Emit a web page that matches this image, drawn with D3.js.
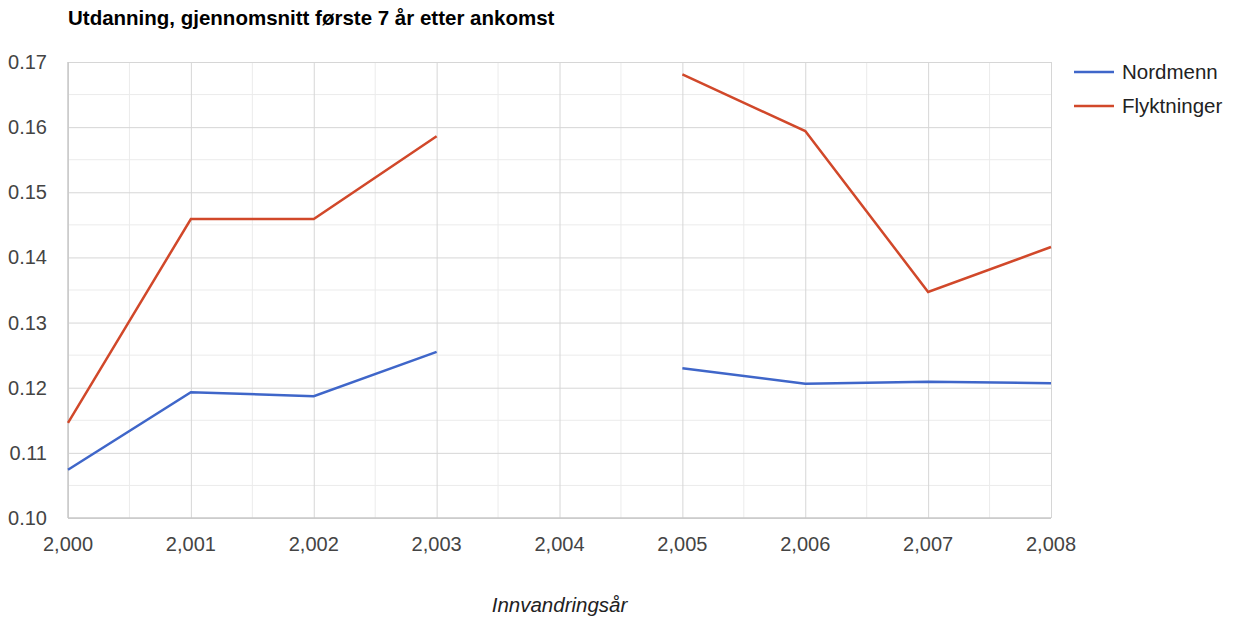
<!DOCTYPE html>
<html>
<head>
<meta charset="utf-8">
<script src="https://cdn.jsdelivr.net/npm/d3@7"></script>
<style>
  body { margin: 0; background: #fff; font-family: Arial, "Liberation Sans", sans-serif; }
  .minor line { stroke: #ebebeb; }
  .major line { stroke: #d6d6d6; }
  .domain { display: none; }
</style>
</head>
<body>
<div id="chart"></div>
<script>
var width = 1234;
var height = 617;

// data; 2004 is missing
var years = [2000, 2001, 2002, 2003, 2004, 2005, 2006, 2007, 2008];
var nordmenn = [0.1074, 0.1193, 0.1187, 0.1255, null, 0.1230, 0.1206, 0.1209, 0.1207];
var flyktninger = [0.1146, 0.1459, 0.1459, 0.1586, null, 0.1681, 0.1594, 0.1347, 0.1416];
var seriesNames = ["Nordmenn", "Flyktninger"];
var colors = ["#3f66c9", "#d1482a"];
var yTicks = [0.10, 0.11, 0.12, 0.13, 0.14, 0.15, 0.16, 0.17];

var margin = {top: 62, left: 68, right: 183, bottom: 99};

var svg = d3.select("#chart").append("svg")
    .attr("width", width)
    .attr("height", height);

var x = d3.scaleLinear().domain([2000, 2008]).range([margin.left, width - margin.right]);
var y = d3.scaleLinear().domain([0.10, 0.17]).range([height - margin.bottom, margin.top]);

/***** Grid lines *****/
var minorX = d3.range(2000.5, 2008, 1);
var minorY = d3.range(0.105, 0.17, 0.01);

svg.append("g").attr("class", "minor")
  .selectAll("line").data(minorX).join("line")
  .attr("x1", d => x(d)).attr("x2", d => x(d))
  .attr("y1", y(0.17)).attr("y2", y(0.10));
svg.append("g").attr("class", "minor")
  .selectAll("line").data(minorY).join("line")
  .attr("y1", d => y(d)).attr("y2", d => y(d))
  .attr("x1", x(2000)).attr("x2", x(2008));

var yGrid = svg.append("g").attr("class", "major")
    .attr("transform", "translate(" + margin.left + ",0)");
d3.axisLeft(y).tickValues(yTicks).tickSize(-(x(2008) - x(2000))).tickFormat("")(yGrid);

var xGrid = svg.append("g").attr("class", "major")
    .attr("transform", "translate(0," + y(0.10) + ")");
d3.axisBottom(x).tickValues(years).tickSize(-(y(0.10) - y(0.17))).tickFormat("")(xGrid);

// axis baselines
svg.append("line").attr("x1", x(2000)).attr("x2", x(2008))
  .attr("y1", y(0.10)).attr("y2", y(0.10)).attr("stroke", "#c8c8c8").attr("stroke-width", 1.5);
svg.append("line").attr("x1", x(2000)).attr("x2", x(2000))
  .attr("y1", y(0.10)).attr("y2", y(0.17)).attr("stroke", "#c8c8c8").attr("stroke-width", 1.5);

/***** Tick labels *****/
svg.append("g").selectAll("text").data(yTicks).join("text")
  .attr("x", 47).attr("y", d => y(d) + 7)
  .attr("text-anchor", "end")
  .attr("font-size", 20).attr("fill", "#444")
  .text(d => d3.format(".2f")(d));

svg.append("g").selectAll("text").data(years).join("text")
  .attr("x", d => x(d)).attr("y", 551)
  .attr("text-anchor", "middle")
  .attr("font-size", 20).attr("fill", "#444")
  .text(d => d3.format(",")(d));

/***** Lines *****/
var line = d3.line()
  .defined(d => d[1] !== null)
  .x(d => x(d[0]))
  .y(d => y(d[1]));

[nordmenn, flyktninger].forEach(function (vals, i) {
  svg.append("path")
    .datum(years.map((yr, j) => [yr, vals[j]]))
    .attr("fill", "none")
    .attr("stroke", colors[i])
    .attr("stroke-width", 2.5)
    .attr("d", line);
});

/***** Title, axis title, legend *****/
svg.append("text")
  .attr("x", 68).attr("y", 25)
  .attr("font-size", 20.5).attr("font-weight", "bold").attr("fill", "#000")
  .text("Utdanning, gjennomsnitt første 7 år etter ankomst");

svg.append("text")
  .attr("x", (x(2000) + x(2008)) / 2).attr("y", 612)
  .attr("text-anchor", "middle")
  .attr("font-size", 20.5).attr("font-style", "italic").attr("fill", "#222")
  .text("Innvandringsår");

var legend = svg.append("g").selectAll("g").data(seriesNames).join("g")
  .attr("transform", (d, i) => "translate(1074," + (72 + i * 34) + ")");
legend.append("line")
  .attr("x1", 0).attr("x2", 40)
  .attr("stroke", (d, i) => colors[i]).attr("stroke-width", 2.5);
legend.append("text")
  .attr("x", 48).attr("y", 7)
  .attr("font-size", 20.5).attr("fill", "#222")
  .text(d => d);
</script>
</body>
</html>
